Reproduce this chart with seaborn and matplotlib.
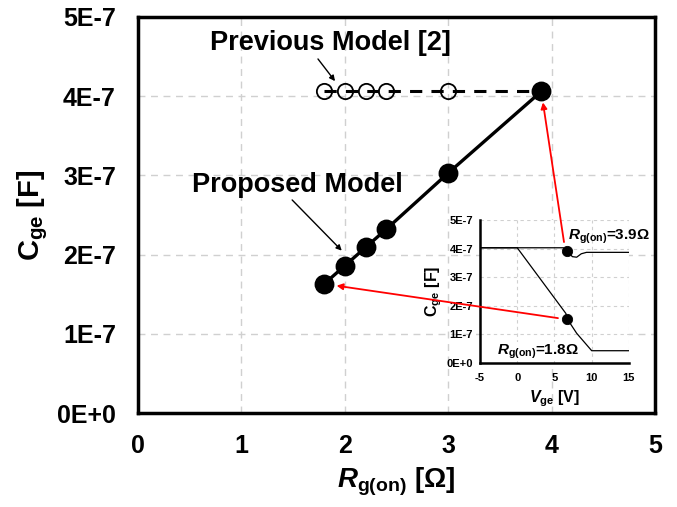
import matplotlib
matplotlib.use("Agg")
import matplotlib.pyplot as plt
import seaborn as sns
import pandas as pd
from matplotlib.patches import ConnectionPatch

# ---- data ----
rg_proposed = [1.8, 2.0, 2.2, 2.4, 3.0, 3.9]
cge_proposed = [1.63e-7, 1.86e-7, 2.09e-7, 2.32e-7, 3.03e-7, 4.06e-7]
rg_previous = [1.8, 2.0, 2.2, 2.4, 3.0, 3.9]
cge_previous = [4.06e-7, 4.06e-7, 4.06e-7, 4.06e-7, 4.06e-7, 4.06e-7]

vge_39 = [-5, 0, 6.2, 6.72, 7.4, 7.98, 8.6, 9.3, 15]
cge_39 = [4.03e-7, 4.03e-7, 4.03e-7, 3.92e-7, 3.72e-7, 3.70e-7, 3.82e-7, 3.87e-7, 3.87e-7]
vge_18 = [-5, 0, 6.54, 6.72, 7.98, 10.0, 15]
cge_18 = [4.03e-7, 4.03e-7, 1.73e-7, 1.54e-7, 1.04e-7, 0.43e-7, 0.43e-7]
dot_v = [6.72, 6.72]
dot_c = [3.92e-7, 1.54e-7]

main_yticks = [0, 1e-7, 2e-7, 3e-7, 4e-7, 5e-7]
main_ylabels = ["0E+0", "1E-7", "2E-7", "3E-7", "4E-7", "5E-7"]
main_xticks = [0, 1, 2, 3, 4, 5]
inset_xticks = [-5, 0, 5, 10, 15]

df_prop = pd.DataFrame({"Rg": rg_proposed, "Cge": cge_proposed})
df_prev = pd.DataFrame({"Rg": rg_previous, "Cge": cge_previous})

sns.set_style("white")
plt.rcParams["font.family"] = ["Liberation Sans", "DejaVu Sans"]
plt.rcParams["font.weight"] = "bold"
plt.rcParams["text.color"] = "black"
plt.rcParams["axes.labelcolor"] = "black"
plt.rcParams["xtick.color"] = "black"
plt.rcParams["ytick.color"] = "black"
plt.rcParams["mathtext.fontset"] = "custom"
plt.rcParams["mathtext.rm"] = "Liberation Sans:bold"
plt.rcParams["mathtext.it"] = "Liberation Sans:bold:italic"
plt.rcParams["mathtext.bf"] = "Liberation Sans:bold"

fig = plt.figure(figsize=(6.77, 5.07), dpi=100)
ax = fig.add_axes([0.204, 0.1854, 0.7635, 0.7811])

grid_kw = dict(color="#d0d0d0", linestyle=(0, (5, 4)), linewidth=1.0)
for xt in main_xticks[1:-1]:
    ax.axvline(xt, zorder=0, **grid_kw)
for yt in main_yticks[1:-1]:
    ax.axhline(yt, zorder=0, **grid_kw)

# previous model: dashed line with open circles
sns.lineplot(data=df_prev, x="Rg", y="Cge", ax=ax, color="black",
             linewidth=2.2, linestyle=(0, (4, 3)), zorder=4)
ax.plot(rg_previous[:-1], cge_previous[:-1], linestyle="none", marker="o",
        markersize=11, markerfacecolor="none", markeredgecolor="black",
        markeredgewidth=1.3, zorder=5)
# proposed model
sns.lineplot(data=df_prop, x="Rg", y="Cge", ax=ax, color="black",
             linewidth=2.4, zorder=4)
sns.scatterplot(data=df_prop, x="Rg", y="Cge", ax=ax, color="black",
                s=175, edgecolor="black", zorder=6)

ax.set_xlim(0, 5)
ax.set_ylim(0, 5e-7)
ax.set_xticks(main_xticks)
ax.set_xticklabels([str(v) for v in main_xticks], fontsize=18, fontweight="bold")
ax.set_yticks(main_yticks)
ax.set_yticklabels(main_ylabels, fontsize=18, fontweight="bold")
ax.tick_params(axis="y", length=0, pad=16)
ax.tick_params(axis="x", length=0, pad=15)
for s in ax.spines.values():
    s.set_linewidth(2.5)
    s.set_color("black")
ax.set_xlabel(r"$\mathit{R}_{\mathrm{g(on)}}$ [Ω]", fontsize=20, fontweight="bold", labelpad=6)
ax.set_ylabel(r"C$_{\mathrm{ge}}$ [F]", fontsize=21, fontweight="bold", labelpad=5)

ax.text(1.857, 4.67e-7, "Previous Model [2]", ha="center", va="center",
        fontsize=19.5, fontweight="bold")
ax.annotate("", xy=(1.905, 4.19e-7), xytext=(1.74, 4.47e-7),
            arrowprops=dict(arrowstyle="-|>", color="black", lw=1.0,
                            shrinkA=0, shrinkB=0, mutation_scale=8))
ax.text(1.54, 2.88e-7, "Proposed Model", ha="center", va="center",
        fontsize=19.5, fontweight="bold")
ax.annotate("", xy=(1.97, 2.05e-7), xytext=(1.49, 2.69e-7),
            arrowprops=dict(arrowstyle="-|>", color="black", lw=1.0,
                            shrinkA=0, shrinkB=0, mutation_scale=8))

# ---- inset ----
ins = fig.add_axes([0.709, 0.284, 0.220, 0.282])
ins.set_facecolor("white")
for xt in inset_xticks[1:]:
    ins.axvline(xt, color="#d0d0d0", linestyle=(0, (3, 3)), linewidth=0.8, zorder=0)
for yt in main_yticks[1:]:
    ins.axhline(yt, color="#d0d0d0", linestyle=(0, (3, 3)), linewidth=0.8, zorder=0)
sns.lineplot(x=vge_39, y=cge_39, ax=ins, color="black", linewidth=0.9, sort=False, zorder=3)
sns.lineplot(x=vge_18, y=cge_18, ax=ins, color="black", linewidth=0.9, sort=False, zorder=3)
sns.scatterplot(x=dot_v, y=dot_c, ax=ins, color="black", s=55, edgecolor="black", zorder=5)
ins.set_xlim(-5, 15)
ins.set_ylim(0, 5e-7)
ins.set_xticks(inset_xticks)
ins.set_xticklabels([str(v) for v in inset_xticks], fontsize=8, fontweight="bold")
ins.set_yticks(main_yticks)
ins.set_yticklabels(main_ylabels, fontsize=8, fontweight="bold")
ins.tick_params(axis="y", length=0, pad=5)
ins.tick_params(axis="x", length=0, pad=7)
for side in ["top", "right"]:
    ins.spines[side].set_visible(False)
for side in ["left", "bottom"]:
    ins.spines[side].set_linewidth(1.8)
    ins.spines[side].set_color("black")
ins.set_xlabel(r"$\mathit{V}_{\mathrm{ge}}$ [V]", fontsize=11.5, fontweight="bold", labelpad=4)
ins.set_ylabel(r"C$_{\mathrm{ge}}$ [F]", fontsize=11.5, fontweight="bold", labelpad=2)
ins.text(6.85, 4.40e-7, r"$\mathit{R}_{\mathrm{g(on)}}$=3.9Ω", fontsize=11,
         fontweight="bold", ha="left", va="center", zorder=6)
ins.text(-2.7, 0.40e-7, r"$\mathit{R}_{\mathrm{g(on)}}$=1.8Ω", fontsize=11,
         fontweight="bold", ha="left", va="center", zorder=6,
         bbox=dict(facecolor="white", edgecolor="none", pad=0.5))

# red connector arrows
con1 = ConnectionPatch(xyA=(6.28, 4.23e-7), coordsA=ins.transData,
                       xyB=(3.9, 4.06e-7), coordsB=ax.transData,
                       arrowstyle="-|>", color="red", lw=1.3, shrinkB=8,
                       mutation_scale=9, zorder=10)
fig.add_artist(con1)
con2 = ConnectionPatch(xyA=(5.47, 1.57e-7), coordsA=ins.transData,
                       xyB=(1.8, 1.63e-7), coordsB=ax.transData,
                       arrowstyle="-|>", color="red", lw=1.3, shrinkB=9,
                       mutation_scale=9, zorder=10)
fig.add_artist(con2)

fig.savefig("out.png", dpi=100)
